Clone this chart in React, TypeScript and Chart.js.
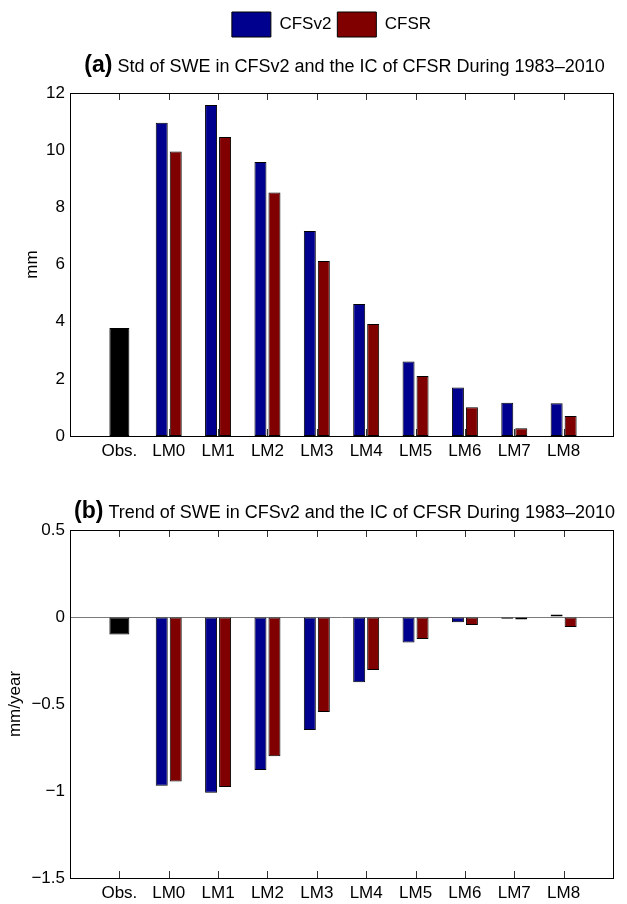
import React, { useEffect, useRef } from 'react';
import { Chart, registerables, layouts } from 'chart.js';

Chart.register(...registerables);

// ---------------- data ----------------
const categories = ['Obs.', 'LM0', 'LM1', 'LM2', 'LM3', 'LM4', 'LM5', 'LM6', 'LM7', 'LM8'];
const leadMonths = categories.slice(1);

const obsStd = [3.78];
const cfsv2Std = [10.96, 11.58, 9.59, 7.17, 4.62, 2.61, 1.70, 1.16, 1.15];
const cfsrStd = [9.95, 10.46, 8.52, 6.12, 3.92, 2.10, 1.01, 0.27, 0.70];

const obsTrend = [-0.10];
const cfsv2Trend = [-0.97, -1.01, -0.88, -0.65, -0.375, -0.146, -0.03, -0.01, 0.015];
const cfsrTrend = [-0.946, -0.977, -0.80, -0.546, -0.305, -0.126, -0.046, -0.015, -0.057];

const stdTicks = [0, 2, 4, 6, 8, 10, 12];
const trendTicks = [-1.5, -1, -0.5, 0, 0.5];

const seriesNames = ['CFSv2', 'CFSR'];
const titleA = ['(a)', ' Std of SWE in CFSv2 and the IC of CFSR During 1983\u20132010'];
const titleB = ['(b)', ' Trend of SWE in CFSv2 and the IC of CFSR During 1983\u20132010'];

// axis labels padded with an empty slot on each side (xlim = [0, 11])
const axisLabels = ['', ...categories, ''];

const FONT = "'Liberation Sans', Arial, Helvetica, sans-serif";
const BLUE = '#00008f';
const RED = '#800000';

function fmt(v: number) {
  return v < 0 ? '\u2212' + String(Math.abs(v)) : String(v);
}

function titleBoxPlugin(parts: string[], height: number, textY: number) {
  return {
    id: 'panelTitle',
    beforeInit(chart: any) {
      const box: any = {
        position: 'top',
        weight: 500,
        fullSize: true,
        options: { display: true },
        top: 0, left: 0, right: 0, bottom: 0, width: 0, height: 0,
        isHorizontal: () => true,
        update(maxWidth: number) {
          box.width = maxWidth;
          box.height = height;
        },
        draw() {
          const ctx = chart.ctx;
          const ca = chart.chartArea;
          ctx.save();
          ctx.fillStyle = '#000';
          ctx.textBaseline = 'middle';
          ctx.textAlign = 'left';
          ctx.font = `bold 23px ${FONT}`;
          const w1 = ctx.measureText(parts[0]).width;
          ctx.font = `18px ${FONT}`;
          const w2 = ctx.measureText(parts[1]).width;
          const cx = (ca.left + ca.right) / 2 + 3;
          const x = cx - (w1 + w2) / 2;
          const y = box.top + textY;
          ctx.font = `bold 23px ${FONT}`;
          ctx.fillText(parts[0], x, y);
          ctx.font = `18px ${FONT}`;
          ctx.fillText(parts[1], x + w1, y + 1);
          ctx.restore();
        },
      };
      layouts.addBox(chart, box);
    },
  };
}

const legendShiftPlugin = {
  id: 'legendShift',
  afterLayout(chart: any) {
    if (chart.legend && chart.legend.options.display) {
      chart.legend.left -= 10;
      chart.legend.right -= 10;
    }
  },
};

const framePlugin = {
  id: 'frame',
  beforeDatasetsDraw(chart: any) {
    const ctx = chart.ctx;
    const xs = chart.scales.x;
    const { top, bottom } = chart.chartArea;
    ctx.save();
    ctx.strokeStyle = '#333';
    ctx.lineWidth = 1;
    ctx.beginPath();
    xs.ticks.forEach((t: any, i: number) => {
      if (!axisLabels[i]) return;
      const px = Math.round(xs.getPixelForTick(i)) + 0.5;
      ctx.moveTo(px, bottom);
      ctx.lineTo(px, bottom - 7);
      ctx.moveTo(px, top);
      ctx.lineTo(px, top + 7);
    });
    ctx.stroke();
    ctx.restore();
  },
  afterDatasetsDraw(chart: any) {
    const ctx = chart.ctx;
    const { left, right, top, bottom } = chart.chartArea;
    ctx.save();
    ctx.strokeStyle = '#000';
    ctx.lineWidth = 1;
    const l = Math.round(left) + 0.5;
    const t = Math.round(top) + 0.5;
    const r = Math.round(right) + 0.5;
    const b = Math.round(bottom) + 0.5;
    ctx.strokeRect(l, t, r - l, b - t);
    ctx.restore();
  },
};

function makeConfig(opts: {
  obs: number[];
  v2: number[];
  sr: number[];
  ticks: number[];
  min: number;
  max: number;
  yTitle: string;
  yTitlePad: number;
  legend: boolean;
  title: string[];
  titleH: number;
  titleY: number;
  padTop: number;
  padBottom: number;
  zeroLine: boolean;
}): any {
  const tickFont = { family: FONT, size: 17 };
  const barCommon = {
    borderColor: '#000',
    borderWidth: 1,
    borderSkipped: false,
    categoryPercentage: 0.567,
    skipNull: true,
  };
  return {
    type: 'bar',
    data: {
      labels: axisLabels,
      datasets: [
        {
          label: seriesNames[0],
          data: leadMonths.map((c, i) => ({ x: c, y: opts.v2[i] })),
          backgroundColor: BLUE,
          barPercentage: 0.857,
          ...barCommon,
        },
        {
          label: seriesNames[1],
          data: leadMonths.map((c, i) => ({ x: c, y: opts.sr[i] })),
          backgroundColor: RED,
          barPercentage: 0.857,
          ...barCommon,
        },
        {
          label: categories[0],
          data: [{ x: categories[0], y: opts.obs[0] }],
          backgroundColor: '#000',
          barPercentage: 0.714,
          ...barCommon,
        },
      ],
    },
    options: {
      responsive: false,
      maintainAspectRatio: false,
      animation: false,
      layout: { padding: { top: opts.padTop, right: 14, left: 0, bottom: opts.padBottom } },
      plugins: {
        tooltip: { enabled: false },
        title: { display: false },
        legend: {
          display: opts.legend,
          position: 'top',
          fullSize: false,
          labels: {
            boxWidth: 39,
            boxHeight: 25,
            padding: 6,
            color: '#000',
            font: { family: FONT, size: 17 },
            filter: (item: any) => item.datasetIndex !== 2,
          },
        },
      },
      scales: {
        x: {
          type: 'category',
          offset: false,
          grid: { display: false, drawTicks: false },
          border: { display: false },
          ticks: { autoSkip: false, maxRotation: 0, padding: 5, color: '#000', font: tickFont },
          afterFit: (s: any) => { s.height = 24; },
        },
        y: {
          type: 'linear',
          min: opts.min,
          max: opts.max,
          afterBuildTicks: (s: any) => { s.ticks = opts.ticks.map((v) => ({ value: v })); },
          grid: {
            display: opts.zeroLine,
            drawTicks: false,
            lineWidth: 1,
            color: (c: any) => (c.tick && c.tick.value === 0 ? '#7a7a7a' : 'rgba(0,0,0,0)'),
          },
          border: { display: false },
          ticks: { padding: 5, color: '#000', font: tickFont, callback: (v: any) => fmt(Number(v)) },
          title: {
            display: true,
            text: opts.yTitle,
            color: '#000',
            font: { family: FONT, size: 17 },
            padding: { top: opts.yTitlePad, bottom: 0 },
          },
          afterFit: (s: any) => { s.width = 70; },
        },
      },
    },
    plugins: [titleBoxPlugin(opts.title, opts.titleH, opts.titleY), legendShiftPlugin, framePlugin],
  };
}

function Panel(props: { cfg: any; width: number; height: number }) {
  const ref = useRef<HTMLCanvasElement | null>(null);
  useEffect(() => {
    if (!ref.current) return;
    const chart = new Chart(ref.current, props.cfg);
    return () => chart.destroy();
  }, []);
  return <canvas ref={ref} width={props.width} height={props.height} style={{ display: 'block' }} />;
}

export default function App() {
  const cfgA = makeConfig({
    obs: obsStd, v2: cfsv2Std, sr: cfsrStd, ticks: stdTicks, min: 0, max: 12,
    yTitle: 'mm', yTitlePad: 22, legend: true, title: titleA, titleH: 46, titleY: 19,
    padTop: 6, padBottom: 4, zeroLine: false,
  });
  const cfgB = makeConfig({
    obs: obsTrend, v2: cfsv2Trend, sr: cfsrTrend, ticks: trendTicks, min: -1.5, max: 0.5,
    yTitle: 'mm/year', yTitlePad: 5, legend: false, title: titleB, titleH: 66, titleY: 48,
    padTop: 0, padBottom: 2, zeroLine: true,
  });
  return (
    <div style={{ position: 'absolute', left: 0, top: 0, width: 627, height: 904, background: '#fff' }}>
      <Panel cfg={cfgA} width={627} height={464} />
      <Panel cfg={cfgB} width={627} height={440} />
    </div>
  );
}
